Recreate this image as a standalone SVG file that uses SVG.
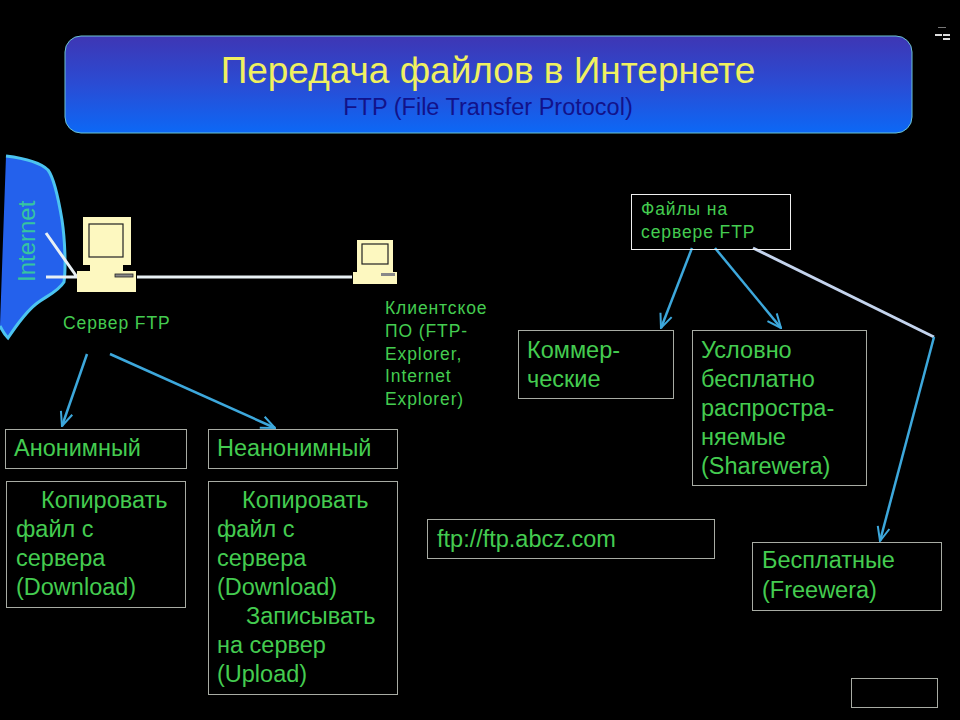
<svg xmlns="http://www.w3.org/2000/svg" width="960" height="720" viewBox="0 0 960 720">
<defs>
<linearGradient id="tg" x1="0" y1="0" x2="0" y2="1"><stop offset="0" stop-color="#3e36b4"/><stop offset="0.5" stop-color="#2a4cd4"/><stop offset="1" stop-color="#0c68f6"/></linearGradient>
<marker id="ah" viewBox="0 0 16 16" refX="15" refY="8" markerWidth="16" markerHeight="16" markerUnits="userSpaceOnUse" orient="auto"><path d="M1 2L15 8L1 14" fill="none" stroke="#3da8dc" stroke-width="2"/></marker>
</defs>
<style>
text{font-family:"Liberation Sans",Arial,sans-serif;fill:#44cc50}
.b{fill:none;stroke:#a8aca4;stroke-width:1}
.w{fill:none;stroke:#e8f0f4;stroke-width:3}
.a{fill:none;stroke:#3da8dc;stroke-width:2.500;marker-end:url(#ah)}
.t{font-size:23.500px}
.s{font-size:17.500px;letter-spacing:.9px}
.c{fill:#fdf8c0}
.d{fill:none;stroke:#222;stroke-width:1.2}
</style>
<rect width="960" height="720" fill="#000"/>
<g id="title"><rect x="65" y="36" width="847" height="97" rx="16" fill="url(#tg)" stroke="#6cc4d0" stroke-width="1"/>
<text x="488" y="83" text-anchor="middle" font-size="37" style="fill:#f0f060">Передача файлов в Интернете</text>
<text x="488" y="115" text-anchor="middle" font-size="23.500" style="fill:#12128a">FTP (File Transfer Protocol)</text></g>
<g id="mark" fill="#ddd"><rect x="935" y="34" width="7" height="2"/><rect x="943" y="34" width="7" height="2"/><rect x="943" y="38" width="7" height="2"/><rect x="938" y="27" width="8" height="1" fill="#777"/></g>
<g id="internet"><path d="M6 156C22 158 40 162 48 170C54 178 58 196 62 220C65 240 66 268 64 282C58 292 46 296 36 304C26 312 16 326 8 338C5 335 2 330 0 326L3 240Z" fill="#2461ec"/>
<path d="M6 156C22 158 40 162 48 170C54 178 58 196 62 220C65 240 66 268 64 282C58 292 46 296 36 304C26 312 16 326 8 338C5 335 2 330 0 326" fill="none" stroke="#4cc4f0" stroke-width="3"/>
<text transform="translate(35 282) rotate(-90)" font-size="24" style="fill:#36c4a0">Internet</text></g>
<g id="connectors">
<path class="w" d="M46 233L77 277M46 277H78M137 277H352"/>
<path class="a" d="M87 354L62 426"/><path class="a" d="M110 354L275 428"/>
<path class="a" d="M692 248L661 328"/><path class="a" d="M715 248L781 328"/>
<path d="M753 248L934 337" fill="none" stroke="#c4d4ee" stroke-width="3"/>
<path class="a" d="M934 337L880 541"/>
</g>
<g id="server"><rect class="c" x="83" y="217" width="48" height="48"/><rect class="d" x="89" y="224" width="34" height="33"/><rect class="c" x="90" y="265" width="33" height="6"/><rect class="c" x="77" y="271" width="59" height="21"/><rect x="115" y="274" width="18" height="3" fill="#888" stroke="#222" stroke-width=".8"/>
<text class="s" x="63" y="329">Сервер FTP</text></g>
<g id="client"><rect class="c" x="357" y="240" width="36" height="36"/><rect class="d" x="362" y="244" width="26" height="20"/><rect class="c" x="363" y="267" width="24" height="5"/><rect class="c" x="353" y="272" width="44" height="12"/><rect x="381" y="273" width="14" height="3" fill="#888"/>
<text class="s" x="385" y="314">Клиентское</text><text class="s" x="385" y="337">ПО (FTP-</text><text class="s" x="385" y="360">Explorer,</text><text class="s" x="385" y="382">Internet</text><text class="s" x="385" y="405">Explorer)</text></g>
<g id="anon"><rect class="b" x="5.500" y="429.500" width="181" height="39"/><text class="t" x="14" y="456">Анонимный</text></g>
<g id="nonanon"><rect class="b" x="208.500" y="429.500" width="189" height="39"/><text class="t" x="217" y="456">Неанонимный</text></g>
<g id="copy1"><rect class="b" x="6.500" y="481.500" width="179" height="126"/><text class="t" x="41" y="508">Копировать</text><text class="t" x="16" y="537">файл с</text><text class="t" x="16" y="566">сервера</text><text class="t" x="16" y="595">(Download)</text></g>
<g id="copy2"><rect class="b" x="208.500" y="481.500" width="189" height="213"/><text class="t" x="242" y="508">Копировать</text><text class="t" x="217" y="537">файл с</text><text class="t" x="217" y="566">сервера</text><text class="t" x="217" y="595">(Download)</text><text class="t" x="246" y="624">Записывать</text><text class="t" x="217" y="653">на сервер</text><text class="t" x="217" y="682">(Upload)</text></g>
<g id="url"><rect class="b" x="427.500" y="519.500" width="287" height="39"/><text class="t" x="437" y="547">ftp://ftp.abcz.com</text></g>
<g id="files"><rect x="631.500" y="194.500" width="159" height="55" fill="none" stroke="#f0f0f0"/><text class="s" x="641" y="215">Файлы на</text><text class="s" x="641" y="238">сервере FTP</text></g>
<g id="commercial"><rect class="b" x="518.500" y="330.500" width="155" height="68"/><text class="t" x="527" y="358">Коммер-</text><text class="t" x="527" y="387">ческие</text></g>
<g id="shareware"><rect class="b" x="692.500" y="330.500" width="174" height="155"/><text class="t" x="701" y="358">Условно</text><text class="t" x="701" y="387">бесплатно</text><text class="t" x="701" y="416">распростра-</text><text class="t" x="701" y="445">няемые</text><text class="t" x="701" y="474">(Sharewera)</text></g>
<g id="free"><rect class="b" x="752.500" y="542.500" width="189" height="68"/><text class="t" x="762" y="568">Бесплатные</text><text class="t" x="762" y="598">(Freewera)</text></g>
<g id="blank"><rect class="b" x="851.500" y="678.500" width="86" height="29"/></g>
</svg>
